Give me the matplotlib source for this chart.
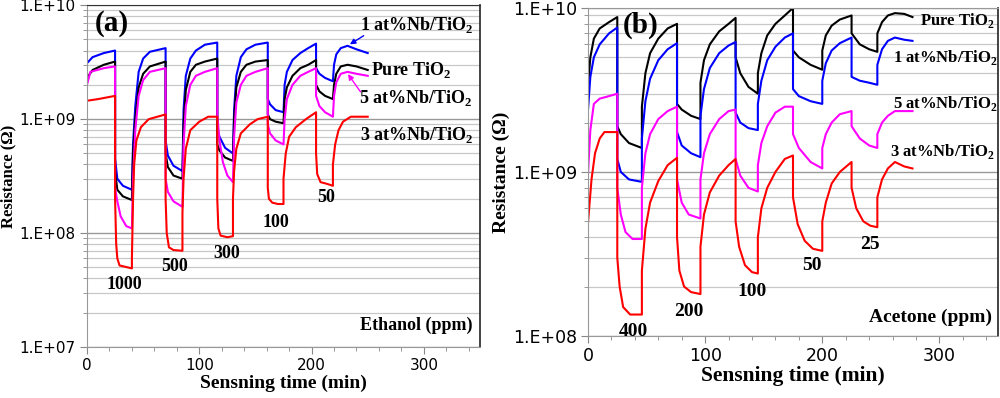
import matplotlib.pyplot as plt
import numpy as np
from matplotlib.ticker import LogLocator, MultipleLocator, FuncFormatter

plt.rcParams['mathtext.fontset'] = 'custom'
plt.rcParams['mathtext.rm'] = 'Liberation Serif:bold'
plt.rcParams['mathtext.bf'] = 'Liberation Serif:bold'

# ---------------- panel (a): ethanol ----------------
t_a_blue = [0, 5, 15, 25, 25, 27, 32, 40, 41, 43, 46, 50, 56, 70,
            70, 72, 77, 85, 86, 88, 92, 97, 105, 116,
            116, 118, 123, 130, 131, 133, 137, 142, 150, 161,
            161, 163, 168, 175, 176, 178, 183, 190, 197, 204,
            204, 207, 212, 219, 220, 222, 226, 232, 240, 250]
r_a_blue = [3.1e9, 3.5e9, 3.8e9, 4.0e9, 4.5e8, 3.0e8, 2.6e8, 2.4e8, 6e8, 1.3e9, 2.6e9, 3.4e9, 3.9e9, 4.2e9,
            6.5e8, 4.8e8, 3.9e8, 3.5e8, 1.2e9, 2.4e9, 3.4e9, 4.0e9, 4.5e9, 4.7e9,
            8e8, 7e8, 5.6e8, 5.0e8, 1.2e9, 2.4e9, 3.5e9, 4.1e9, 4.5e9, 4.7e9,
            1.5e9, 1.35e9, 1.2e9, 1.15e9, 2.0e9, 2.6e9, 3.3e9, 3.8e9, 4.2e9, 4.6e9,
            2.8e9, 2.5e9, 2.3e9, 2.15e9, 3.0e9, 3.7e9, 4.2e9, 4.4e9, 4.1e9, 3.8e9]

t_a_black = t_a_blue
r_a_black = [2.3e9, 2.7e9, 3.0e9, 3.2e9, 3.5e8, 2.4e8, 2.1e8, 1.95e8, 5e8, 1.0e9, 1.9e9, 2.5e9, 2.9e9, 3.2e9,
             5e8, 3.8e8, 3.2e8, 3.0e8, 9e8, 1.8e9, 2.6e9, 3.0e9, 3.2e9, 3.4e9,
             6e8, 5.3e8, 4.6e8, 4.3e8, 1.0e9, 1.9e9, 2.6e9, 3.0e9, 3.2e9, 3.3e9,
             1.1e9, 1.0e9, 9.5e8, 9.2e8, 1.5e9, 1.9e9, 2.4e9, 2.8e9, 3.0e9, 3.3e9,
             2.0e9, 1.75e9, 1.6e9, 1.5e9, 2.0e9, 2.5e9, 2.9e9, 3.0e9, 2.9e9, 2.7e9]

t_a_magenta = [0, 3, 15, 25, 25, 27, 30, 35, 40, 41, 43, 46, 50, 56, 70,
               70, 72, 77, 85, 86, 88, 92, 97, 105, 116,
               116, 118, 121, 125, 130, 131, 133, 137, 142, 150, 161,
               161, 163, 168, 175, 176, 178, 183, 190, 197, 204,
               204, 207, 212, 219, 220, 222, 226, 232, 240, 250]
r_a_magenta = [2.0e9, 2.6e9, 2.8e9, 2.9e9, 2.5e8, 1.9e8, 1.4e8, 1.15e8, 1.1e8, 3e8, 8e8, 1.6e9, 2.2e9, 2.6e9, 2.8e9,
               3.0e8, 2.3e8, 1.9e8, 1.7e8, 6e8, 1.3e9, 2.0e9, 2.4e9, 2.6e9, 2.8e9,
               1.1e9, 6.5e8, 4.2e8, 3.2e8, 2.8e8, 7e8, 1.4e9, 2.0e9, 2.4e9, 2.6e9, 2.8e9,
               9e8, 7.5e8, 6.5e8, 6e8, 1.0e9, 1.5e9, 2.0e9, 2.4e9, 2.6e9, 2.8e9,
               1.6e9, 1.3e9, 1.15e9, 1.05e9, 1.6e9, 2.1e9, 2.5e9, 2.6e9, 2.5e9, 2.4e9]

t_a_red = [0, 10, 25, 25, 26, 27, 29, 40, 40, 41, 42, 44, 48, 55, 70,
           70, 71, 73, 77, 85, 85, 86, 88, 92, 100, 108, 116,
           116, 117, 119, 125, 130, 130, 131, 133, 137, 145, 152, 161,
           161, 162, 165, 170, 175, 175, 177, 180, 186, 195, 204,
           204, 205, 208, 214, 219, 219, 221, 224, 228, 235, 250]
r_a_red = [1.45e9, 1.5e9, 1.6e9, 2e8, 8e7, 6e7, 5.2e7, 4.9e7, 6e7, 2e8, 4e8, 6.5e8, 8.5e8, 1.0e9, 1.1e9,
           2e8, 1e8, 7.5e7, 7.1e7, 7e7, 1.5e8, 3e8, 5.5e8, 8e8, 9.5e8, 1.05e9, 1.05e9,
           2e8, 1.1e8, 9.5e7, 9.2e7, 9.4e7, 2e8, 3.5e8, 5.5e8, 7.5e8, 9e8, 1.0e9, 1.05e9,
           2.5e8, 2.0e8, 1.85e8, 1.8e8, 1.8e8, 3e8, 5e8, 7e8, 8.5e8, 1.0e9, 1.15e9,
           5e8, 3.3e8, 2.8e8, 2.7e8, 2.6e8, 4e8, 6e8, 8e8, 9.5e8, 1.05e9, 1.05e9]

ppm_a = ['1000', '500', '300', '100', '50']

# ---------------- panel (b): acetone ----------------
t_b = [0, 2, 5, 10, 18, 25, 25, 28, 35, 46,
       46, 49, 53, 60, 68, 76, 76, 80, 88, 96,
       96, 99, 104, 112, 120, 126, 126, 130, 137, 145,
       145, 148, 153, 160, 168, 175, 175, 180, 190, 200,
       200, 203, 208, 215, 225, 225, 232, 240, 247,
       247, 251, 256, 262, 270, 277]
r_b_black = [3.3e9, 5e9, 6.5e9, 7.5e9, 8.2e9, 8.8e9, 1.9e9, 1.7e9, 1.5e9, 1.4e9,
             2.5e9, 4e9, 5.3e9, 6.5e9, 7.5e9, 8e9, 2.6e9, 2.4e9, 2.2e9, 2.1e9,
             3.5e9, 4.8e9, 6e9, 7.2e9, 8e9, 8.7e9, 5e9, 4e9, 3.3e9, 3.0e9,
             4e9, 5.3e9, 6.8e9, 8e9, 9e9, 1.0e10, 5.5e9, 5e9, 4.5e9, 4.2e9,
             5.5e9, 6.8e9, 7.8e9, 8.5e9, 9e9, 7e9, 6.0e9, 5.6e9, 5.4e9,
             7e9, 8.2e9, 9e9, 9.3e9, 9.2e9, 8.8e9]
r_b_blue = [2.4e9, 3.8e9, 5e9, 6e9, 7e9, 7.6e9, 1.2e9, 1.0e9, 9e8, 8.7e8,
            1.6e9, 2.7e9, 3.7e9, 4.8e9, 5.6e9, 6.1e9, 1.75e9, 1.45e9, 1.3e9, 1.23e9,
            2.2e9, 3.2e9, 4.3e9, 5.3e9, 5.9e9, 6.2e9, 2.3e9, 2.0e9, 1.85e9, 1.8e9,
            2.6e9, 3.6e9, 4.8e9, 5.8e9, 6.6e9, 7e9, 3.2e9, 2.9e9, 2.7e9, 2.6e9,
            3.6e9, 4.6e9, 5.5e9, 6.1e9, 6.6e9, 3.8e9, 3.6e9, 3.5e9, 3.4e9,
            4.5e9, 5.6e9, 6.3e9, 6.6e9, 6.4e9, 6.3e9]
t_b_magenta = [0, 2, 5, 10, 18, 25, 25, 28, 32, 38, 46,
               46, 49, 53, 60, 68, 76, 76, 80, 86, 96,
               96, 99, 104, 112, 120, 126, 126, 130, 137, 145,
               145, 148, 153, 160, 168, 175, 175, 180, 190, 200,
               200, 203, 208, 215, 225, 225, 232, 240, 247,
               247, 251, 256, 262, 270, 277]
r_b_magenta = [9.8e8, 1.8e9, 2.6e9, 2.8e9, 2.9e9, 3.0e9, 8e8, 5.5e8, 4.3e8, 3.9e8, 3.9e8,
               8e8, 1.3e9, 1.7e9, 2.1e9, 2.35e9, 2.5e9, 9e8, 6.5e8, 5.5e8, 5.2e8,
               9e8, 1.3e9, 1.7e9, 2.1e9, 2.35e9, 2.4e9, 1.2e9, 9.5e8, 8e8, 7.6e8,
               1.1e9, 1.5e9, 1.9e9, 2.3e9, 2.5e9, 2.5e9, 1.7e9, 1.4e9, 1.15e9, 1.05e9,
               1.4e9, 1.7e9, 2.0e9, 2.25e9, 2.35e9, 1.9e9, 1.6e9, 1.45e9, 1.4e9,
               1.7e9, 2.0e9, 2.2e9, 2.35e9, 2.35e9, 2.35e9]
t_b_red = [0, 3, 6, 10, 14, 25, 25, 27, 30, 36, 46,
           46, 49, 53, 60, 68, 76, 76, 78, 82, 88, 96,
           96, 99, 104, 112, 120, 126, 126, 129, 134, 140, 145,
           145, 148, 153, 160, 168, 175, 175, 179, 185, 192, 200,
           200, 203, 208, 215, 225, 225, 229, 235, 241, 247,
           247, 251, 256, 262, 270, 277]
r_b_red = [4.9e8, 9e8, 1.3e9, 1.6e9, 1.75e9, 1.75e9, 3e8, 2e8, 1.5e8, 1.35e8, 1.35e8,
           2.5e8, 4.5e8, 6.5e8, 8.8e8, 1.1e9, 1.22e9, 4e8, 2.5e8, 2e8, 1.85e8, 1.8e8,
           3.5e8, 5.5e8, 7.5e8, 9.5e8, 1.1e9, 1.2e9, 5e8, 3.5e8, 2.7e8, 2.45e8, 2.4e8,
           4e8, 6e8, 8e8, 1.0e9, 1.2e9, 1.26e9, 7e8, 4.8e8, 3.8e8, 3.4e8, 3.3e8,
           5e8, 6.5e8, 8.5e8, 1.0e9, 1.15e9, 8e8, 6e8, 5e8, 4.7e8, 4.6e8,
           7e8, 9e8, 1.05e9, 1.15e9, 1.08e9, 1.05e9]

ppm_b = ['400', '200', '100', '50', '25']

serif = 'Liberation Serif'


def sci(v, pos):
    e = int(round(np.log10(v)))
    return '1.E+%02d' % e


def style_axes(ax, ylim, labelsize):
    ax.set_yscale('log')
    ax.set_ylim(*ylim)
    ax.set_xlim(0, 350)
    ax.xaxis.set_major_locator(MultipleLocator(100))
    ax.xaxis.set_minor_locator(MultipleLocator(20))
    ax.yaxis.set_major_locator(LogLocator(base=10))
    ax.yaxis.set_minor_locator(LogLocator(base=10, subs=np.arange(2, 10)))
    ax.yaxis.set_major_formatter(FuncFormatter(sci))
    ax.yaxis.set_minor_formatter(FuncFormatter(lambda v, p: ''))
    ax.grid(which='major', axis='y', color='#999999', lw=1.0)
    ax.grid(which='minor', axis='y', color='#c8c8c8', lw=0.9)
    ax.set_axisbelow(True)
    ax.tick_params(which='both', direction='out', color='#888888')
    ax.tick_params(which='major', length=5, labelsize=labelsize, pad=3)
    ax.tick_params(which='minor', length=3)
    for s in ['left', 'bottom']:
        ax.spines[s].set_color('#999999')
    ax.spines['top'].set_color('#333333')
    ax.spines['right'].set_color('#222222')
    ax.spines['right'].set_linewidth(1.2)
    for lab in ax.get_xticklabels() + ax.get_yticklabels():
        lab.set_family('DejaVu Sans')


def btext(ax, x, y, s, size=13, **kw):
    ax.text(x, y, s, transform=ax.transAxes, family=serif, weight='bold',
            fontsize=size, **kw)


fig = plt.figure(figsize=(10, 3.98), dpi=100)
ax1 = fig.add_axes([0.087, 0.128, 0.393, 0.859])
ax2 = fig.add_axes([0.588, 0.156, 0.410, 0.824])

lw = 1.5
ax1.plot(t_a_blue, r_a_blue, color='#0000ff', lw=lw)
ax1.plot(t_a_black, r_a_black, color='black', lw=lw)
ax1.plot(t_a_magenta, r_a_magenta, color='#ff00ff', lw=lw)
ax1.plot(t_a_red, r_a_red, color='#ff0000', lw=lw)
style_axes(ax1, (1e7, 1e10), 11)

btext(ax1, 0.02, 0.947, '(a)', size=21, va='center')
btext(ax1, 0.695, 0.942, r'1 at%Nb/TiO$_2$', va='center')
btext(ax1, 0.723, 0.81, r'Pure TiO$_2$', va='center')
btext(ax1, 0.692, 0.728, r'5 at%Nb/TiO$_2$', va='center')
btext(ax1, 0.695, 0.62, r'3 at%Nb/TiO$_2$', va='center')
ax1.annotate('', xy=(232, 4.4e9), xytext=(0.71, 0.915), textcoords='axes fraction',
             arrowprops=dict(arrowstyle='-|>', color='#0000ff', lw=1, mutation_scale=8))
ax1.annotate('', xy=(231, 2.6e9), xytext=(0.7, 0.74), textcoords='axes fraction',
             arrowprops=dict(arrowstyle='-|>', color='#ff00ff', lw=1, mutation_scale=8))
pos_a = [(0.094, 0.184), (0.224, 0.237), (0.356, 0.275), (0.481, 0.365), (0.608, 0.436)]
for s, (x, y) in zip(ppm_a, pos_a):
    btext(ax1, x, y, s, ha='center', va='center')
btext(ax1, 0.98, 0.064, 'Ethanol (ppm)', ha='right', va='center')
ax1.set_xlabel('Sensning time (min)', family=serif, weight='bold', fontsize=14, labelpad=1)
ax1.set_ylabel('Resistance (\u03a9)', family=serif, weight='bold', fontsize=12, labelpad=2)

ax2.plot(t_b, r_b_black, color='black', lw=lw)
ax2.plot(t_b, r_b_blue, color='#0000ff', lw=lw)
ax2.plot(t_b_magenta, r_b_magenta, color='#ff00ff', lw=lw)
ax2.plot(t_b_red, r_b_red, color='#ff0000', lw=lw)
style_axes(ax2, (1e8, 1e10), 12.5)
ax2.spines['top'].set_color('#999999')

btext(ax2, 0.085, 0.948, '(b)', size=21, va='center')
btext(ax2, 0.81, 0.963, r'Pure TiO$_2$', size=12, va='center')
btext(ax2, 0.744, 0.848, r'1 at%Nb/TiO$_2$', size=12, va='center')
btext(ax2, 0.744, 0.71, r'5 at%Nb/TiO$_2$', size=12, va='center')
btext(ax2, 0.737, 0.561, r'3 at%Nb/TiO$_2$', size=12, va='center')
pos_b = [(0.11, 0.012), (0.246, 0.073), (0.40, 0.134), (0.546, 0.216), (0.688, 0.28)]
for s, (x, y) in zip(ppm_b, pos_b):
    btext(ax2, x, y, s, size=14, ha='center', va='center')
btext(ax2, 0.985, 0.058, 'Acetone (ppm)', size=14, ha='right', va='center')
ax2.set_xlabel('Sensning time (min)', family=serif, weight='bold', fontsize=15.5, labelpad=1)
ax2.set_ylabel('Resistance (\u03a9)', family=serif, weight='bold', fontsize=14, labelpad=2)

fig.savefig('out.png', dpi=100)
